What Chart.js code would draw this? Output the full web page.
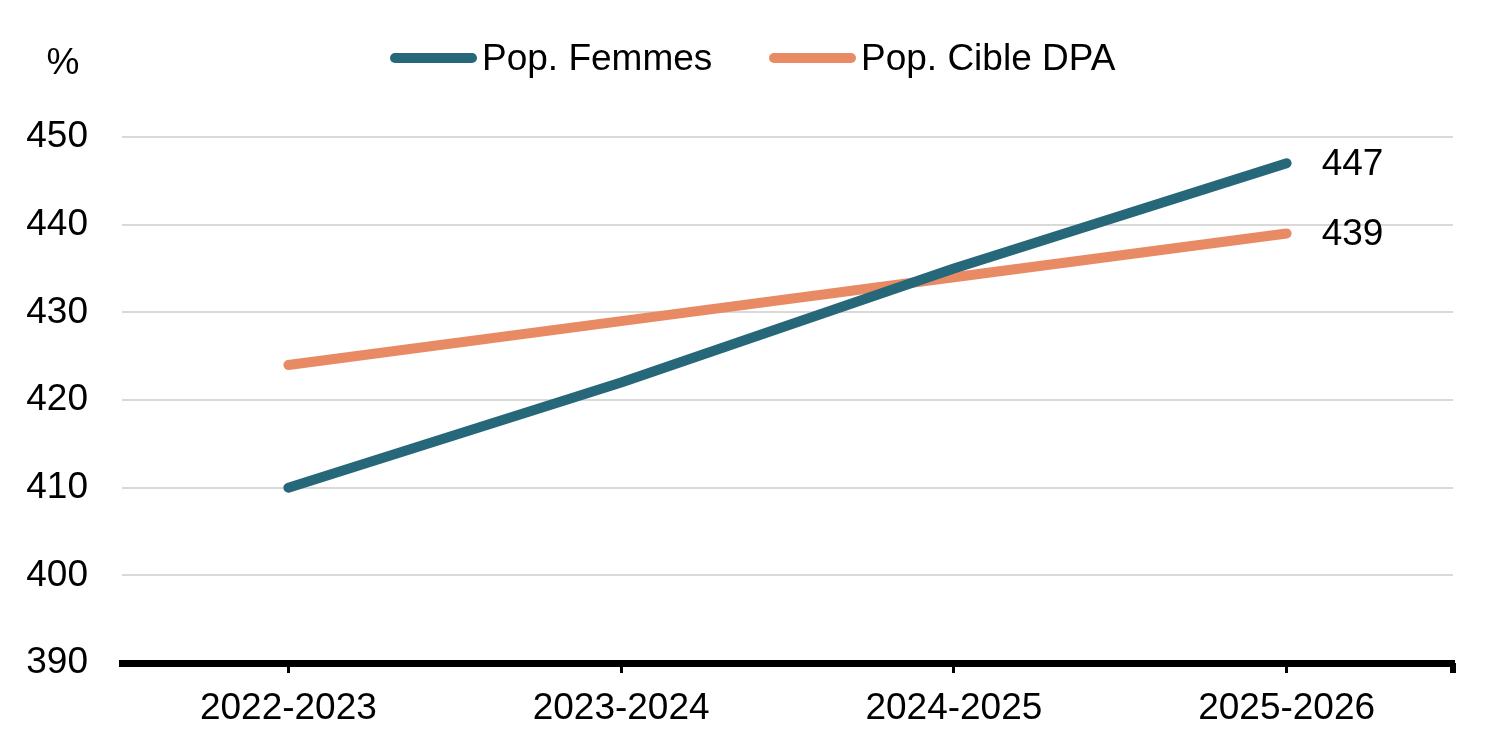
<!DOCTYPE html>
<html>
<head>
<meta charset="utf-8">
<script src="https://cdn.jsdelivr.net/npm/chart.js@4"></script>
<style>
  html, body { margin: 0; padding: 0; background: #fff; }
  #wrap { width: 1500px; height: 750px; }
</style>
</head>
<body>
<div id="wrap"><canvas id="c" width="1500" height="750"></canvas></div>
<script>
const categories = ["2022-2023", "2023-2024", "2024-2025", "2025-2026"];
const seriesNames = ["Pop. Femmes", "Pop. Cible DPA"];
const femmesValues = [410, 422, 435, 447];
const cibleValues = [424, 429, 434, 439];
const yTicks = [390, 400, 410, 420, 430, 440, 450];
const yUnit = "%";

const TEAL = "#26677A";
const ORANGE = "#E88A64";
const FONT = "'Liberation Sans', Arial, sans-serif";
const FS = 37;

const overlay = {
  id: "overlay",
  afterDatasetsDraw(chart) {
    const ctx = chart.ctx;
    const area = chart.chartArea;
    ctx.save();
    ctx.font = FS + "px " + FONT;
    ctx.fillStyle = "#000";
    ctx.textBaseline = "middle";
    ctx.textAlign = "left";
    chart.data.datasets.forEach((ds, i) => {
      const meta = chart.getDatasetMeta(i);
      const last = meta.data[meta.data.length - 1];
      ctx.fillText(String(ds.data[ds.data.length - 1]), last.x + 35, last.y + 1);
    });
    ctx.textAlign = "center";
    ctx.fillText(yUnit, 63, 64);
    const items = [
      { name: seriesNames[0], color: TEAL, x1: 395, x2: 472, tx: 482 },
      { name: seriesNames[1], color: ORANGE, x1: 774, x2: 851, tx: 861 }
    ];
    items.forEach(it => {
      ctx.beginPath();
      ctx.lineCap = "round";
      ctx.lineWidth = 10;
      ctx.strokeStyle = it.color;
      ctx.moveTo(it.x1, 58);
      ctx.lineTo(it.x2, 58);
      ctx.stroke();
      ctx.textAlign = "left";
      ctx.fillStyle = "#000";
      ctx.fillText(it.name, it.tx, 60);
    });
    ctx.fillStyle = "#000";
    ctx.fillRect(area.right - 3, area.bottom, 6, 10);
    ctx.restore();
  }
};

new Chart(document.getElementById("c"), {
  type: "line",
  data: {
    labels: categories,
    datasets: [
      { label: seriesNames[0], data: femmesValues, borderColor: TEAL, backgroundColor: TEAL,
        borderWidth: 10, pointRadius: 0, tension: 0, borderCapStyle: "round", borderJoinStyle: "round" },
      { label: seriesNames[1], data: cibleValues, borderColor: ORANGE, backgroundColor: ORANGE,
        borderWidth: 10, pointRadius: 0, tension: 0, borderCapStyle: "round", borderJoinStyle: "round" }
    ]
  },
  options: {
    responsive: false,
    animation: false,
    devicePixelRatio: 1,
    layout: { padding: { top: 137, right: 47, bottom: 0, left: 0 } },
    plugins: { legend: { display: false }, tooltip: { enabled: false } },
    scales: {
      x: {
        offset: true,
        border: { display: true, color: "#000", width: 7 },
        grid: { display: true, drawOnChartArea: false, drawTicks: true, tickLength: 10, color: "#000", lineWidth: 3, offset: false },
        ticks: { color: "#000", font: { family: FONT, size: FS }, padding: 14, maxRotation: 0 },
        afterFit(scale) { scale.height = 87; }
      },
      y: {
        min: 390, max: 450,
        afterBuildTicks(scale) { scale.ticks = yTicks.map(v => ({ value: v })); },
        border: { display: false },
        grid: { color: "#D9D9D9", lineWidth: 2, drawTicks: false },
        ticks: { color: "#000", font: { family: FONT, size: FS }, padding: 34 },
        afterFit(scale) { scale.width = 122; }
      }
    }
  },
  plugins: [overlay]
});
</script>
</body>
</html>
